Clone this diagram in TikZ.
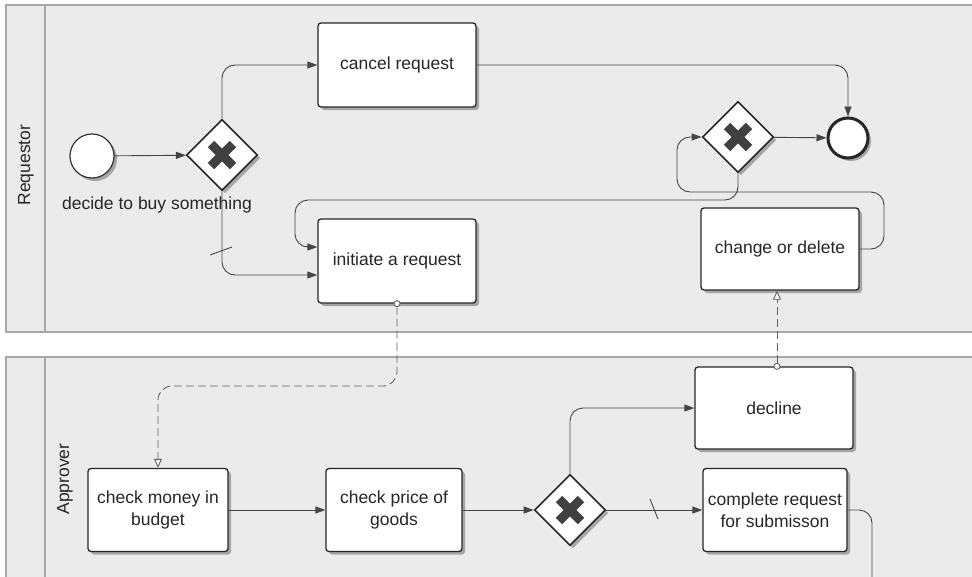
\documentclass[tikz,border=0pt]{standalone}
\usepackage{fontspec}
\setmainfont{Liberation Sans}
\usetikzlibrary{shapes.geometric,arrows.meta,shadows}
\definecolor{lanefill}{HTML}{EBEBEB}
\definecolor{laneline}{HTML}{A8A8A8}
\definecolor{inkgray}{HTML}{262626}
\definecolor{edgegray}{HTML}{454545}
\definecolor{xgray}{HTML}{404040}

\begin{document}
\begin{tikzpicture}[x=1pt, y=-1pt,
    font=\fontsize{17.5}{22}\selectfont, text=inkgray,
    lane/.style={draw=laneline, fill=lanefill, line width=1.2pt},
    softshadow/.style={drop shadow={shadow xshift=3pt, shadow yshift=-3pt, fill=black!50, opacity=0.65}},
    task/.style={draw=black!85, fill=white, rounded corners=3pt, line width=1.3pt,
        align=center, inner sep=2pt, softshadow},
    gateway/.style={diamond, draw=black!85, fill=white, line width=1.6pt,
        minimum size=71pt, inner sep=0pt, softshadow,
        path picture={
            \draw[xgray, line width=9pt]
                ([shift={(-11pt,-11pt)}]path picture bounding box.center) --
                ([shift={(11pt,11pt)}]path picture bounding box.center)
                ([shift={(-11pt,11pt)}]path picture bounding box.center) --
                ([shift={(11pt,-11pt)}]path picture bounding box.center);}},
    startevent/.style={circle, draw=black!80, fill=white, line width=1.2pt,
        minimum size=44pt, inner sep=0pt, softshadow},
    endevent/.style={circle, draw=black!85, fill=white, line width=3pt,
        minimum size=40pt, inner sep=0pt, softshadow},
    flow/.style={draw=edgegray, line width=0.9pt, rounded corners=13pt,
        -{Triangle[length=10pt, width=7pt]}},
    msgflow/.style={draw=edgegray!85, line width=0.9pt, dash pattern=on 8pt off 4pt,
        rounded corners=14pt, shorten <=-3.5pt,
        {Circle[length=7pt, width=7pt, fill=white]}-{Triangle[length=9pt, width=8pt, fill=white]}},
    slash/.style={draw=edgegray, line width=0.9pt}
]
    \useasboundingbox (0,0) rectangle (972,576);

    % pools
    \draw[lane] (6,5) rectangle (980,332);
    \draw[laneline, line width=1.2pt] (45,5) -- (45,332);
    \draw[lane] (6,357) rectangle (980,590);
    \draw[laneline, line width=1.2pt] (45,357) -- (45,590);
    \node[rotate=90] (reqlabel) at (26,165) {Requestor};
    \node[rotate=90] (applabel) at (65,479) {Approver};

    % requestor
    \node[startevent] (start) at (92,156) {};
    \node (startlabel) at (157,205) {decide to buy something};
    \node[gateway] (gwone) at (222,155) {};
    \node[task, minimum width=158pt, minimum height=84pt] (cancel) at (397,65) {cancel request};
    \node[task, minimum width=158pt, minimum height=84pt] (initiate) at (397,261) {initiate a request};
    \node[gateway] (gwtwo) at (738,137) {};
    \node[endevent] (end) at (848,138) {};
    \node[task, minimum width=158pt, minimum height=82pt] (change) at (780,249) {change or delete};

    % approver
    \node[task, minimum width=140pt, minimum height=83pt] (checkmoney) at (158,510) {check money in\\budget};
    \node[task, minimum width=136pt, minimum height=83pt] (checkprice) at (394,510) {check price of\\goods};
    \node[gateway] (gwthree) at (570,510) {};
    \node[task, minimum width=158pt, minimum height=82pt] (decline) at (774,408) {decline};
    \node[task, minimum width=144pt, minimum height=83pt] (complete) at (775,510) {complete request\\for submisson};
    \coordinate (offpage) at (872,600);

    % sequence flows
    \draw[flow] (start) -- (gwone);
    \draw[flow] (gwone.north) |- (cancel.west);
    \draw[flow] (gwone.south) |- ([yshift=-14pt]initiate.west);
    \draw[slash] (210,255) -- (232,247);
    \draw[flow] (cancel.east) -| (end.north);
    \draw[flow] (gwtwo) -- (end);
    \draw[flow] (gwtwo.south) |- (295,200) |- ([yshift=14pt]initiate.west);
    \draw[flow] (change.east) -| (884,192) -| (677,137) -- (gwtwo.west);
    \draw[flow] (checkmoney) -- (checkprice);
    \draw[flow] (checkprice) -- (gwthree);
    \draw[flow] (gwthree.north) |- (decline.west);
    \draw[flow] (gwthree.east) -- (complete.west);
    \draw[slash] (650,499) -- (658,519);
    \draw[draw=edgegray, line width=0.9pt, rounded corners=13pt] (complete.east) -| (offpage);

    % message flows
    \draw[msgflow] (initiate.south) |- (158,386) -- (checkmoney.north);
    \draw[msgflow] ([xshift=3pt]decline.north) -- ([xshift=-3pt]change.south);
\end{tikzpicture}
\end{document}
